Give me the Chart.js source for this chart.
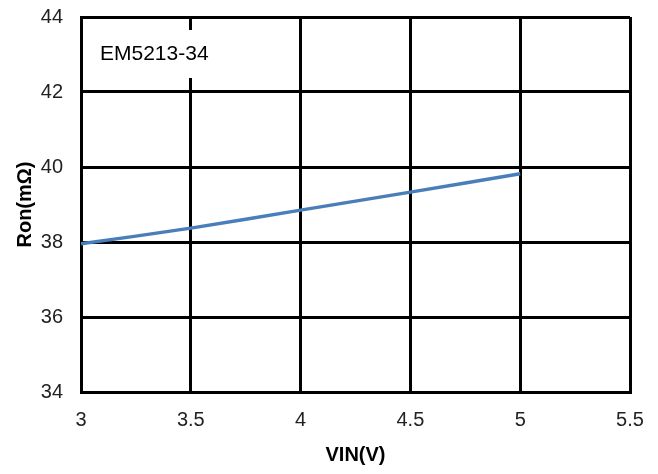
<!DOCTYPE html>
<html>
<head>
<meta charset="utf-8">
<script src="https://cdn.jsdelivr.net/npm/chart.js@4"></script>
<style>
  html, body { margin: 0; padding: 0; background: #fff; }
  #wrap { width: 658px; height: 474px; }
</style>
</head>
<body>
<div id="wrap"><canvas id="ronChart" width="658" height="474"></canvas></div>
<script>
const vin = [3, 3.5, 4, 4.5, 5];
const ron = [37.95, 38.37, 38.85, 39.33, 39.82];
const xTicks = [3, 3.5, 4, 4.5, 5, 5.5];
const yTicks = [34, 36, 38, 40, 42, 44];
const deviceLabel = 'EM5213-34';

const fontFamily = '"Liberation Sans", Arial, sans-serif';

// white box with the part number, over the grid
const labelBox = {
    id: 'labelBox',
    afterDatasetsDraw(chart) {
        const ctx = chart.ctx;
        const area = chart.chartArea;
        ctx.save();
        ctx.fillStyle = '#fff';
        ctx.fillRect(area.left + 12, area.top + 13, 122, 48);
        ctx.fillStyle = '#000';
        ctx.font = '21px ' + fontFamily;
        ctx.textBaseline = 'middle';
        ctx.fillText(deviceLabel, area.left + 19, area.top + 37);
        ctx.restore();
    }
};

const chart = new Chart(document.getElementById('ronChart').getContext('2d'), {
    type: 'scatter',
    data: {
        datasets: [{
            label: 'Ron',
            data: vin.map((v, i) => ({x: v, y: ron[i]})),
            showLine: true,
            borderColor: '#4a7ebb',
            borderWidth: 3.5,
            pointRadius: 0,
            tension: 0.3,
            fill: false
        }]
    },
    options: {
        responsive: false,
        animation: false,
        layout: {padding: {left: 0, top: 17, right: 28, bottom: 0}},
        plugins: {legend: {display: false}, tooltip: {enabled: false}},
        scales: {
            x: {
                type: 'linear',
                min: 3,
                max: 5.5,
                afterBuildTicks: (axis) => { axis.ticks = xTicks.map(v => ({value: v})); },
                afterFit: (axis) => { axis.height = 82; axis.paddingLeft = 0; axis.paddingRight = 0; },
                grid: {color: '#000', lineWidth: 3, drawTicks: false},
                border: {color: '#000', width: 3},
                ticks: {color: '#222', font: {family: fontFamily, size: 20}, padding: 16, maxRotation: 0,
                        callback: (v) => String(v)},
                title: {display: true, text: 'VIN(V)', color: '#000',
                        font: {family: fontFamily, size: 20, weight: 'bold'}, padding: {top: 0, bottom: 7}}
            },
            y: {
                min: 34,
                max: 44,
                afterBuildTicks: (axis) => { axis.ticks = yTicks.map(v => ({value: v})); },
                afterFit: (axis) => { axis.width = 81; axis.paddingTop = 0; axis.paddingBottom = 0; },
                grid: {color: '#000', lineWidth: 3, drawTicks: false},
                border: {color: '#000', width: 3},
                ticks: {color: '#222', font: {family: fontFamily, size: 20}, padding: 18,
                        callback: (v) => String(v)},
                title: {display: true, text: 'Ron(mΩ)', color: '#000',
                        font: {family: fontFamily, size: 20, weight: 'bold'}, padding: {top: 13, bottom: 0}}
            }
        }
    },
    plugins: [labelBox]
});
</script>
</body>
</html>
